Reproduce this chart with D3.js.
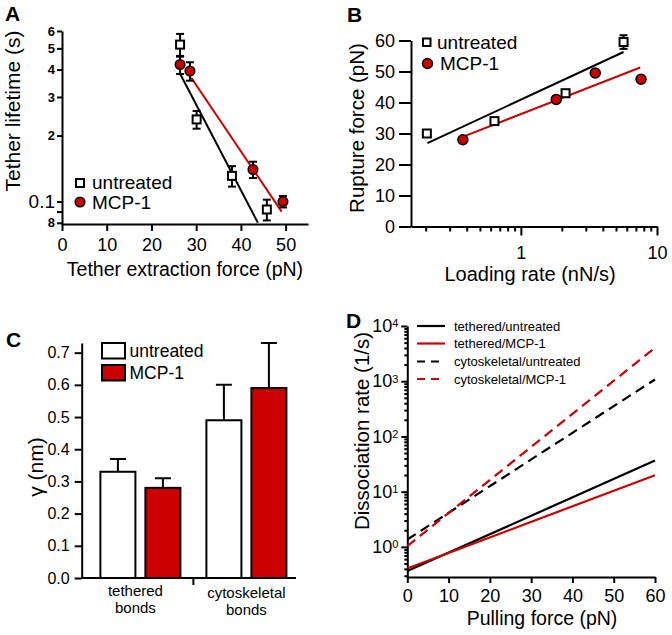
<!DOCTYPE html>
<html>
<head>
<meta charset="utf-8">
<script src="https://cdn.jsdelivr.net/npm/d3@7"></script>
<style>
    body { margin: 0; background: #fff; }
    svg { display: block; font-family: "Liberation Sans", Arial, sans-serif; }
    .axis path, .axis line { stroke: #000; stroke-width: 2px; }
    .axis text { fill: #000; }
</style>
</head>
<body>
<div id="figure"></div>
<script>

// ---- Panel A: tether lifetime vs extraction force ----
var forceUntreatedA = [26.4, 30.1, 38.0, 45.8];
var lifetimeUntreatedA = [5.2, 2.37, 1.31, 0.92];
var errUntreatedA = [0.62, 0.22, 0.14, 0.1];
var forceMcpA = [26.4, 28.6, 42.7, 49.4];
var lifetimeMcpA = [4.22, 3.94, 1.40, 1.0];
var errMcpA = [0.4, 0.38, 0.12, 0.06];
var fitUntreatedA = [[26.4, 3.83], [43.8, 0.80]];
var fitMcpA = [[28.9, 3.67], [49.1, 0.90]];
var xTicksA = [0, 10, 20, 30, 40, 50];
var yTicksA = [0.8, 0.9, 1, 2, 3, 4, 5, 6];
var yTickLabelsA = ["8", "", "0.1", "2", "3", "4", "5", "6"];

// ---- Panel B: rupture force vs loading rate ----
var rateUntreatedB = [0.204, 0.64, 2.13, 5.68];
var ruptureUntreatedB = [30, 34, 43, 59.5];
var errUntreatedB = [0.8, 1, 1, 2.2];
var rateMcpB = [0.375, 1.82, 3.52, 7.63];
var ruptureMcpB = [28, 41, 49.5, 47.5];
var errMcpB = [0.8, 0.8, 0.8, 0.8];
var fitUntreatedB = [[0.206, 26.9], [5.68, 56.3]];
var fitMcpB = [[0.378, 29.0], [7.53, 51.3]];
var yTicksB = [0, 10, 20, 30, 40, 50, 60];
var xTicksB = [0.2, 0.3, 0.4, 0.5, 0.6, 0.7, 0.8, 0.9, 1, 2, 3, 4, 5, 6, 7, 8, 9, 10];
var xMajorB = [1, 10];

// ---- Panel C: gamma per bond type ----
var bondLabels = [["tethered", "bonds"], ["cytoskeletal", "bonds"]];
var conditions = ["untreated", "MCP-1"];
var gammaUntreated = [0.33, 0.49];
var gammaMcp = [0.28, 0.59];
var errGammaUntreated = [0.04, 0.11];
var errGammaMcp = [0.03, 0.14];
var yTicksC = [0, 0.1, 0.2, 0.3, 0.4, 0.5, 0.6, 0.7];

// ---- Panel D: dissociation rate vs pulling force ----
var forceD = [0, 60];
var seriesNamesD = ["tethered/untreated", "tethered/MCP-1", "cytoskeletal/untreated", "cytoskeletal/MCP-1"];
var tetheredUntreatedD = [0.366, 36.6];
var tetheredMcpD = [0.405, 19.9];
var cytoUntreatedD = [1.36, 1075];
var cytoMcpD = [1.03, 4050];
var xTicksD = [0, 10, 20, 30, 40, 50, 60];
var yMajorD = [1, 10, 100, 1000, 10000];

var red = "#cc0000";

var svg = d3.select("#figure").append("svg")
    .attr("width", 672)
    .attr("height", 635);

function cleanAxis(g, size) {
    g.attr("font-family", null).attr("font-size", null);
    g.selectAll("text").attr("font-size", size);
    return g;
}

function panelLetter(txt, x, y) {
    svg.append("text")
        .attr("x", x).attr("y", y)
        .attr("font-size", 21)
        .attr("font-weight", "bold")
        .text(txt);
}

function errorBars(g, xs, ys, errs, xScale, yScale, cap) {
    xs.forEach(function(xv, i) {
        var cx = xScale(xv);
        var top = yScale(ys[i] + errs[i]), bot = yScale(ys[i] - errs[i]);
        g.append("line").attr("x1", cx).attr("x2", cx).attr("y1", top).attr("y2", bot)
            .attr("stroke", "#000").attr("stroke-width", 2);
        [top, bot].forEach(function(yy) {
            g.append("line").attr("x1", cx - cap).attr("x2", cx + cap).attr("y1", yy).attr("y2", yy)
                .attr("stroke", "#000").attr("stroke-width", 2);
        });
    });
}

function squares(g, xs, ys, xScale, yScale, s) {
    g.selectAll(null).data(xs).enter().append("rect")
        .attr("x", function(d) { return xScale(d) - s / 2; })
        .attr("y", function(d, i) { return yScale(ys[i]) - s / 2; })
        .attr("width", s).attr("height", s)
        .attr("fill", "#fff").attr("stroke", "#000").attr("stroke-width", 2);
}

function dots(g, xs, ys, xScale, yScale, r) {
    g.selectAll(null).data(xs).enter().append("circle")
        .attr("cx", function(d) { return xScale(d); })
        .attr("cy", function(d, i) { return yScale(ys[i]); })
        .attr("r", r)
        .attr("fill", red).attr("stroke", "#000").attr("stroke-width", 1.5);
}

/* ================= Panel A ================= */
var xA = d3.scaleLinear().domain([0, 55]).range([62, 308]);
var yA = d3.scaleLog().domain([0.79, 6]).range([224, 31]);
var gA = svg.append("g");

gA.append("g").attr("class", "axis").attr("transform", "translate(0,224)")
    .call(d3.axisBottom(xA).tickValues(xTicksA).tickSize(7).tickSizeOuter(0).tickPadding(7))
    .call(cleanAxis, 18);

gA.append("g").attr("class", "axis").attr("transform", "translate(62,0)")
    .call(d3.axisLeft(yA).tickValues(yTicksA).tickSize(5).tickSizeOuter(0).tickPadding(2)
        .tickFormat(function(d, i) { return yTickLabelsA[i]; }))
    .call(cleanAxis, 13)
    .selectAll("text")
    .attr("font-size", function(d) { return d === 1 ? 19 : 13; })
    .attr("font-weight", function(d) { return d === 1 ? "normal" : "bold"; });

var lineA = d3.line().x(function(d) { return xA(d[0]); }).y(function(d) { return yA(d[1]); });
gA.append("path").attr("d", lineA(fitUntreatedA)).attr("fill", "none").attr("stroke", "#000").attr("stroke-width", 2);
gA.append("path").attr("d", lineA(fitMcpA)).attr("fill", "none").attr("stroke", red).attr("stroke-width", 2);

errorBars(gA, forceUntreatedA, lifetimeUntreatedA, errUntreatedA, xA, yA, 4);
errorBars(gA, forceMcpA, lifetimeMcpA, errMcpA, xA, yA, 4);
squares(gA, forceUntreatedA, lifetimeUntreatedA, xA, yA, 8);
dots(gA, forceMcpA, lifetimeMcpA, xA, yA, 4.8);

// legend A
gA.append("rect").attr("x", 76).attr("y", 179).attr("width", 8).attr("height", 8)
    .attr("fill", "#fff").attr("stroke", "#000").attr("stroke-width", 2);
gA.append("text").attr("x", 92).attr("y", 189).attr("font-size", 19).text("untreated");
gA.append("circle").attr("cx", 80).attr("cy", 202).attr("r", 4.8)
    .attr("fill", red).attr("stroke", "#000").attr("stroke-width", 1.5);
gA.append("text").attr("x", 92).attr("y", 209).attr("font-size", 19).text("MCP-1");

gA.append("text").attr("x", 185).attr("y", 276).attr("text-anchor", "middle")
    .attr("font-size", 19.5).text("Tether extraction force (pN)");
gA.append("text").attr("transform", "translate(20,111) rotate(-90)").attr("text-anchor", "middle")
    .attr("font-size", 21).text("Tether lifetime (s)");
panelLetter("A", 5, 21);

/* ================= Panel B ================= */
var xB = d3.scaleLog().domain([0.156, 10]).range([411, 657]);
var yB = d3.scaleLinear().domain([0, 60]).range([226.5, 40.5]);
var gB = svg.append("g");

gB.append("g").attr("class", "axis").attr("transform", "translate(0,226.5)")
    .call(d3.axisBottom(xB).tickValues(xTicksB).tickSize(9).tickSizeOuter(0).tickPadding(11)
        .tickFormat(function(d) { return xMajorB.indexOf(d) >= 0 ? d3.format("d")(d) : ""; }))
    .call(cleanAxis, 18)
    .selectAll(".tick line")
    .attr("y2", function(d) { return xMajorB.indexOf(d) >= 0 ? 9 : 5; });

gB.append("g").attr("class", "axis").attr("transform", "translate(411,0)")
    .call(d3.axisLeft(yB).tickValues(yTicksB).tickSize(12).tickSizeOuter(0).tickPadding(4))
    .call(cleanAxis, 18);

var lineB = d3.line().x(function(d) { return xB(d[0]); }).y(function(d) { return yB(d[1]); });
gB.append("path").attr("d", lineB(fitUntreatedB)).attr("fill", "none").attr("stroke", "#000").attr("stroke-width", 2);
gB.append("path").attr("d", lineB(fitMcpB)).attr("fill", "none").attr("stroke", red).attr("stroke-width", 2);

errorBars(gB, rateUntreatedB, ruptureUntreatedB, errUntreatedB, xB, yB, 4);
errorBars(gB, rateMcpB, ruptureMcpB, errMcpB, xB, yB, 4);
squares(gB, rateUntreatedB, ruptureUntreatedB, xB, yB, 8);
dots(gB, rateMcpB, ruptureMcpB, xB, yB, 5);

gB.append("rect").attr("x", 423).attr("y", 38.5).attr("width", 7.5).attr("height", 7.5)
    .attr("fill", "#fff").attr("stroke", "#000").attr("stroke-width", 2);
gB.append("text").attr("x", 437).attr("y", 48.5).attr("font-size", 19).text("untreated");
gB.append("circle").attr("cx", 427.5).attr("cy", 63.5).attr("r", 5)
    .attr("fill", red).attr("stroke", "#000").attr("stroke-width", 1.5);
gB.append("text").attr("x", 440).attr("y", 70).attr("font-size", 19).text("MCP-1");

gB.append("text").attr("x", 530).attr("y", 281).attr("text-anchor", "middle")
    .attr("font-size", 20).text("Loading rate (nN/s)");
gB.append("text").attr("transform", "translate(364,128) rotate(-90)").attr("text-anchor", "middle")
    .attr("font-size", 20.5).text("Rupture force (pN)");
panelLetter("B", 347, 22);

/* ================= Panel C ================= */
var yC = d3.scaleLinear().domain([0, 0.73]).range([578, 343]);
var x0C = d3.scaleBand().domain([0, 1]).range([87.4, 299.4]);
var x1C = d3.scaleBand().domain(conditions).range([13, 93]).paddingInner(0.222);
var gC = svg.append("g");

gC.append("g").attr("class", "axis").attr("transform", "translate(81.7,0)")
    .call(d3.axisLeft(yC).tickValues(yTicksC).tickSize(7).tickSizeOuter(0).tickPadding(5)
        .tickFormat(d3.format(".1f")))
    .call(cleanAxis, 16);

gC.append("line").attr("x1", 81.7).attr("x2", 296).attr("y1", 578).attr("y2", 578)
    .attr("stroke", "#000").attr("stroke-width", 2);
gC.append("line").attr("x1", x0C(1)).attr("x2", x0C(1)).attr("y1", 578).attr("y2", 585)
    .attr("stroke", "#000").attr("stroke-width", 2);

var barsC = [];
bondLabels.forEach(function(b, i) {
    barsC.push({group: i, cond: conditions[0], v: gammaUntreated[i], e: errGammaUntreated[i], fill: "#fff"});
    barsC.push({group: i, cond: conditions[1], v: gammaMcp[i], e: errGammaMcp[i], fill: red});
});

function barX(d) { return x0C(d.group) + x1C(d.cond); }

// error bars (upper only)
gC.selectAll(".err").data(barsC).enter().append("path")
    .attr("class", "err")
    .attr("d", function(d) {
        var cx = barX(d) + x1C.bandwidth() / 2, t = yC(d.v + d.e);
        return "M" + cx + "," + yC(d.v) + "V" + t + "M" + (cx - 8) + "," + t + "H" + (cx + 8);
    })
    .attr("fill", "none").attr("stroke", "#000").attr("stroke-width", 2);

gC.selectAll(".bar").data(barsC).enter().append("rect")
    .attr("class", "bar")
    .attr("x", barX)
    .attr("y", function(d) { return yC(d.v); })
    .attr("width", x1C.bandwidth())
    .attr("height", function(d) { return yC(0) - yC(d.v); })
    .attr("fill", function(d) { return d.fill; })
    .attr("stroke", "#000").attr("stroke-width", 2);

// category labels, two lines each
var labelShiftC = [-5, 0];
bondLabels.forEach(function(lines, i) {
    lines.forEach(function(s, j) {
        gC.append("text").attr("text-anchor", "middle").attr("font-size", 15)
            .attr("x", x0C(i) + x0C.bandwidth() / 2 + labelShiftC[i])
            .attr("y", 596 + i * 2 + j * 17)
            .text(s);
    });
});

// legend C
gC.append("rect").attr("x", 102).attr("y", 343).attr("width", 23).attr("height", 15.5)
    .attr("fill", "#fff").attr("stroke", "#000").attr("stroke-width", 2);
gC.append("text").attr("x", 129.5).attr("y", 357).attr("font-size", 17.5).text(conditions[0]);
gC.append("rect").attr("x", 102).attr("y", 365).attr("width", 23).attr("height", 15.5)
    .attr("fill", red).attr("stroke", "#000").attr("stroke-width", 2);
gC.append("text").attr("x", 129.5).attr("y", 379).attr("font-size", 17.5).text(conditions[1]);

gC.append("text").attr("transform", "translate(43,467) rotate(-90)").attr("text-anchor", "middle")
    .attr("font-size", 21).text("γ (nm)");
panelLetter("C", 6, 347);

/* ================= Panel D ================= */
var xD = d3.scaleLinear().domain([0, 60]).range([407.3, 655]);
var yD = d3.scaleLog().domain([0.285, 10000]).range([577, 326]);
var gD = svg.append("g");

gD.append("g").attr("class", "axis").attr("transform", "translate(0,577)")
    .call(d3.axisBottom(xD).tickValues(xTicksD).tickSize(6).tickSizeOuter(0).tickPadding(6))
    .call(cleanAxis, 18);

var minorD = [];
[0.1, 1, 10, 100, 1000].forEach(function(base) {
    for (var k = 2; k <= 9; k++) {
        var v = base * k;
        if (v >= 0.285 && v < 10000) minorD.push(v);
    }
});
var yAxisD = gD.append("g").attr("class", "axis").attr("transform", "translate(407.3,0)")
    .call(d3.axisLeft(yD).tickValues(yMajorD.concat(minorD)).tickSize(6).tickSizeOuter(0).tickPadding(3)
        .tickFormat(function(d) { return yMajorD.indexOf(d) >= 0 ? "10" : ""; }))
    .call(cleanAxis, 18);
yAxisD.selectAll(".tick line")
    .attr("x2", function(d) { return yMajorD.indexOf(d) >= 0 ? -6 : -3; });
yAxisD.selectAll(".tick text")
    .filter(function(d) { return yMajorD.indexOf(d) >= 0; })
    .append("tspan")
    .attr("dy", "-0.45em")
    .attr("font-size", 11)
    .text(function(d) { return Math.round(Math.log10(d)); });

var seriesD = [tetheredUntreatedD, tetheredMcpD, cytoUntreatedD, cytoMcpD];
var colorD = ["#000", red, "#000", red];
var dashD = [null, null, "10,6", "10,6"];

var lineD = d3.line().x(function(d, i) { return xD(forceD[i]); }).y(function(d) { return yD(d); });
gD.selectAll(".series").data(seriesD).enter().append("path")
    .attr("class", "series")
    .attr("d", lineD)
    .attr("fill", "none")
    .attr("stroke", function(d, i) { return colorD[i]; })
    .attr("stroke-width", 2.2)
    .attr("stroke-dasharray", function(d, i) { return dashD[i]; });

// legend D
seriesNamesD.forEach(function(name, i) {
    var yy = [326, 343.5, 361.5, 379][i];
    gD.append("line").attr("x1", 417).attr("x2", 445).attr("y1", yy).attr("y2", yy)
        .attr("stroke", colorD[i]).attr("stroke-width", 2.2)
        .attr("stroke-dasharray", dashD[i] ? "8,6" : null);
    gD.append("text").attr("x", 454).attr("y", yy + 4.5).attr("font-size", 13).text(name);
});

gD.append("text").attr("x", 542).attr("y", 625).attr("text-anchor", "middle")
    .attr("font-size", 19.5).text("Pulling force (pN)");
gD.append("text").attr("transform", "translate(369,431) rotate(-90)").attr("text-anchor", "middle")
    .attr("font-size", 20.5).text("Dissociation rate (1/s)");
panelLetter("D", 346, 328);

</script>
</body>
</html>
